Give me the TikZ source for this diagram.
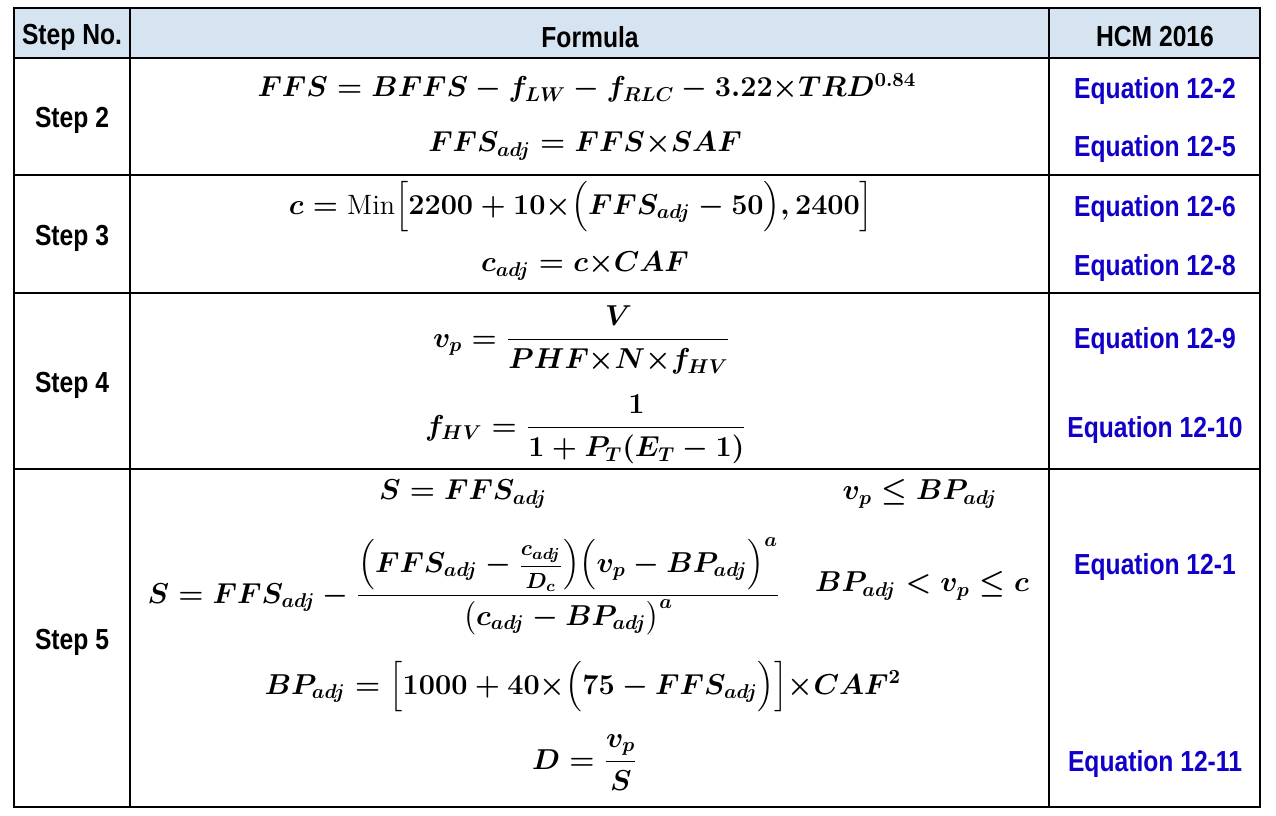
\documentclass[tikz,border=0pt]{standalone}
\usepackage{amsmath}
\usepackage{amssymb}
\usepackage{fontspec}
\newfontfamily\narrowfont[FakeStretch=0.85]{Liberation Sans}
\definecolor{headblue}{RGB}{214,227,240}
\definecolor{eqblue}{RGB}{17,0,200}
\newcommand{\tm}{{\times}}
\newcommand{\midfrac}[2]{\text{\fontsize{11}{13}\selectfont$\dfrac{#1}{#2}$}}

\begin{document}
\begin{tikzpicture}[x=0.5pt,y=-0.5pt,
	head/.style={font=\narrowfont\bfseries\fontsize{14.5}{17}\selectfont},
	eqref/.style={head,text=eqblue},
	formula/.style={font=\fontsize{14}{16}\selectfont\boldmath}]
	\useasboundingbox (0,0) rectangle (1276,815);
	% grid
	\fill[headblue] (14,8) rectangle (1260,58);
	\draw[line width=1pt] (14,8) rectangle (1260,807);
	\foreach \y in {58,175,293,469}
		\draw[line width=1pt] (14,\y) -- (1260,\y);
	\foreach \x in {130,1049}
		\draw[line width=1pt] (\x,8) -- (\x,807);
	% header
		\node[head] (hstep) at (72,37) {Step No.};
		\node[head] (hform) at (590,37) {Formula};
		\node[head] (hhcm) at (1155,37) {HCM 2016};
	% steps
		\node[head] (s2) at (72,120) {Step 2};
		\node[head] (s3) at (72,238) {Step 3};
		\node[head] (s4) at (72,385) {Step 4};
		\node[head] (s5) at (72,642) {Step 5};
	% formulas
		\node[formula] (f2a) at (587,88) {$FFS=BFFS-f_{LW}-f_{RLC}-3.22\tm TRD^{0.84}$};
		\node[formula] (f2b) at (585,146) {$FFS_{adj}=FFS\tm SAF$};
		\node[formula] (f3a) at (581,207) {$c=\text{\normalfont Min}\Bigl[2200+10\tm\Bigl(FFS_{adj}-50\Bigr),2400\Bigr]$};
		\node[formula] (f3b) at (585,266) {$c_{adj}=c\tm CAF$};
		\node[formula,anchor=base] (f4a) at (582,347) {$\displaystyle v_p=\frac{V}{PHF\tm N\tm f_{HV}}$};
		\node[formula,anchor=base] (f4b) at (586,435) {$\displaystyle f_{HV}=\frac{1}{1+P_T(E_T-1)}$};
		\node[formula] (f5a) at (463,494) {$S=FFS_{adj}$};
		\node[formula] (c5a) at (920,494) {$v_p\leq BP_{adj}$};
		\node[formula,anchor=base,inner sep=1pt] (f5b) at (464,603) {$\displaystyle S=FFS_{adj}-\frac{\Bigl(FFS_{adj}-\midfrac{c_{adj}}{D_c}\Bigr)\Bigl(v_p-BP_{adj}\Bigr)^a}{\bigl(c_{adj}-BP_{adj}\bigr)^a}$};
		\node[formula] (c5b) at (922,586) {$BP_{adj}<v_p\leq c$};
		\node[formula] (f5c) at (583,687) {$BP_{adj}=\Bigl[1000+40\tm\Bigl(75-FFS_{adj}\Bigr)\Bigr]\tm CAF^2$};
		\node[formula,anchor=base] (f5d) at (585,769) {$\displaystyle D=\frac{v_p}{S}$};
	% references
		\node[eqref] (e2a) at (1155,91) {Equation 12-2};
		\node[eqref] (e2b) at (1155,149) {Equation 12-5};
		\node[eqref] (e3a) at (1155,209) {Equation 12-6};
		\node[eqref] (e3b) at (1155,268) {Equation 12-8};
		\node[eqref] (e4a) at (1155,341) {Equation 12-9};
		\node[eqref] (e4b) at (1155,430) {Equation 12-10};
		\node[eqref] (e5a) at (1155,567) {Equation 12-1};
		\node[eqref] (e5b) at (1155,764) {Equation 12-11};
\end{tikzpicture}
\end{document}
